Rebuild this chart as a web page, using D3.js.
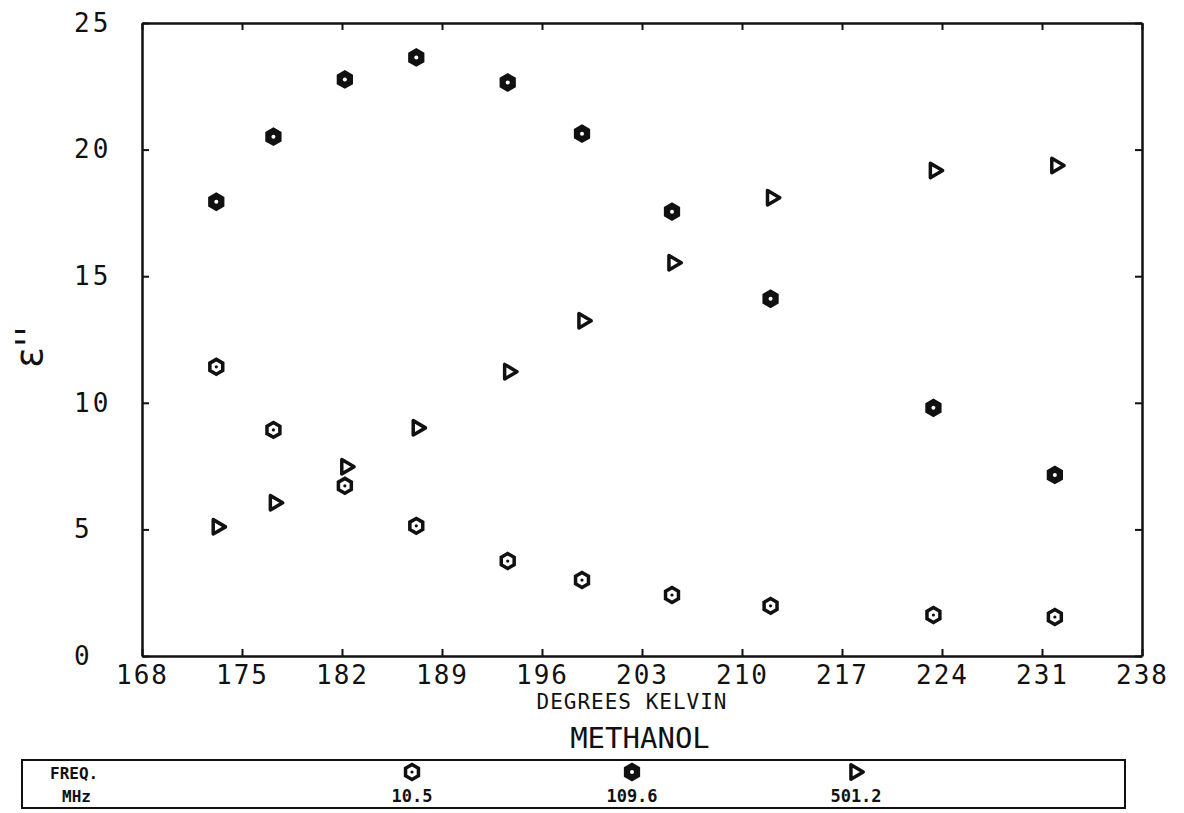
<!DOCTYPE html>
<html>
<head>
<meta charset="utf-8">
<script src="https://cdn.jsdelivr.net/npm/d3@7"></script>
<style>
  body { margin: 0; background: #fff; }
  svg { display: block; }
  text { font-family: "DejaVu Sans Mono", monospace; fill: #111; }
</style>
</head>
<body>
<script>
// methanol dielectric loss vs temperature, three frequencies
var temps = [173.2, 177.2, 182.2, 187.2, 193.6, 198.8, 205.1, 212.0, 223.4, 231.9];
var f105 = [11.42, 8.93, 6.72, 5.14, 3.75, 3.0, 2.41, 1.98, 1.62, 1.54];
var f1096 = [17.94, 20.51, 22.77, 23.64, 22.65, 20.63, 17.55, 14.11, 9.80, 7.15];
var f5012 = [5.10, 6.05, 7.47, 9.01, 11.23, 13.24, 15.53, 18.10, 19.17, 19.37];
var xTicks = [168, 175, 182, 189, 196, 203, 210, 217, 224, 231, 238];
var yTicks = [0, 5, 10, 15, 20, 25];
var freqs = ["10.5", "109.6", "501.2"];

var W = 1184, H = 813;
var M = {left: 142, right: 42, top: 23, bottom: 157};

var svg = d3.select("body").append("svg").attr("width", W).attr("height", H);

var x = d3.scaleLinear().domain([168, 238]).range([M.left, W - M.right]);
var y = d3.scaleLinear().domain([0, 25]).range([H - M.bottom, M.top]);

// plotter style axes, ticks pointing inward on all four sides
function styleAxis(g) {
    g.select(".domain").attr("stroke", "#111").attr("stroke-width", 2.5);
    g.selectAll(".tick line").attr("stroke", "#111").attr("stroke-width", 2);
}

svg.append("g")
    .attr("transform", "translate(0," + y(0) + ")")
    .call(d3.axisBottom(x).tickValues(xTicks).tickSize(-7).tickSizeOuter(0).tickPadding(10))
    .call(styleAxis)
    .call(function (g) {
        g.selectAll("text").style("font-size", "26px").style("letter-spacing", "2px");
    });

svg.append("g")
    .attr("transform", "translate(0," + y(25) + ")")
    .call(d3.axisTop(x).tickValues(xTicks).tickSize(-7).tickSizeOuter(0).tickFormat(""))
    .call(styleAxis);

svg.append("g")
    .attr("transform", "translate(" + x(168) + ",0)")
    .call(d3.axisLeft(y).tickValues(yTicks).tickSize(-7).tickSizeOuter(0))
    .call(styleAxis)
    .call(function (g) {
        g.selectAll("text")
            .style("font-size", "26px")
            .style("letter-spacing", "3px")
            .attr("text-anchor", "start")
            .attr("x", 74 - x(168));
    });

svg.append("g")
    .attr("transform", "translate(" + x(238) + ",0)")
    .call(d3.axisRight(y).tickValues(yTicks).tickSize(-7).tickSizeOuter(0).tickFormat(""))
    .call(styleAxis);

// axis titles
svg.append("text")
    .attr("transform", "translate(42," + y(12.2) + ") rotate(-90)")
    .attr("text-anchor", "middle")
    .style("font-family", "DejaVu Sans")
    .style("font-size", "38px")
    .text("ε''");

svg.append("text")
    .attr("x", 632).attr("y", 709)
    .attr("text-anchor", "middle")
    .style("font-size", "21px")
    .style("letter-spacing", "1px")
    .text("DEGREES KELVIN");

svg.append("text")
    .attr("x", 640).attr("y", 748)
    .attr("text-anchor", "middle")
    .style("font-size", "29px")
    .text("METHANOL");

// marker shapes
var hexagon = {
    draw: function (ctx, size) {
        var r = Math.sqrt(size) / 1.8;
        for (var k = 0; k < 6; k++) {
            var a = Math.PI / 6 + k * Math.PI / 3;
            if (k === 0) ctx.moveTo(r * Math.cos(a), r * Math.sin(a));
            else ctx.lineTo(r * Math.cos(a), r * Math.sin(a));
        }
        ctx.closePath();
    }
};
var rightTri = {
    draw: function (ctx, size) {
        var r = Math.sqrt(size) / 1.8;
        ctx.moveTo(r, 0);
        ctx.lineTo(-r * 0.7, -r);
        ctx.lineTo(-r * 0.7, r);
        ctx.closePath();
    }
};

function drawOpenHex(g, cx, cy) {
    g.append("path").attr("transform", "translate(" + cx + "," + cy + ")")
        .attr("d", d3.symbol().type(hexagon).size(180)())
        .attr("fill", "none").attr("stroke", "#111").attr("stroke-width", 3.5);
    g.append("circle").attr("cx", cx).attr("cy", cy).attr("r", 1.6).attr("fill", "#111");
}
function drawFilledHex(g, cx, cy) {
    g.append("path").attr("transform", "translate(" + cx + "," + cy + ")")
        .attr("d", d3.symbol().type(hexagon).size(220)())
        .attr("fill", "#111").attr("stroke", "#111").attr("stroke-width", 2);
    g.append("circle").attr("cx", cx).attr("cy", cy).attr("r", 2).attr("fill", "#fff");
}
function drawTri(g, cx, cy) {
    g.append("path").attr("transform", "translate(" + cx + "," + cy + ")")
        .attr("d", d3.symbol().type(rightTri).size(170)())
        .attr("fill", "none").attr("stroke", "#111").attr("stroke-width", 3.5)
        .attr("stroke-linejoin", "round");
}

var pts = svg.append("g");
temps.forEach(function (t, i) {
    drawOpenHex(pts, x(t), y(f105[i]));
    drawFilledHex(pts, x(t), y(f1096[i]));
    drawTri(pts, x(t) + 2, y(f5012[i]));
});

// legend box
var leg = svg.append("g");
leg.append("rect")
    .attr("x", 22).attr("y", 760).attr("width", 1103).attr("height", 48)
    .attr("fill", "none").attr("stroke", "#111").attr("stroke-width", 2);
leg.append("text").attr("x", 50).attr("y", 779)
    .style("font-size", "16px").style("font-weight", "bold").text("FREQ.");
leg.append("text").attr("x", 62).attr("y", 802)
    .style("font-size", "16px").style("font-weight", "bold").text("MHz");

var legX = [412, 632, 856];
drawOpenHex(leg, legX[0], 772);
drawFilledHex(leg, legX[1], 772);
drawTri(leg, legX[2], 772);
freqs.forEach(function (f, i) {
    leg.append("text").attr("x", legX[i]).attr("y", 802)
        .attr("text-anchor", "middle").style("font-size", "17px")
        .style("font-weight", "bold").text(f);
});
</script>
</body>
</html>
